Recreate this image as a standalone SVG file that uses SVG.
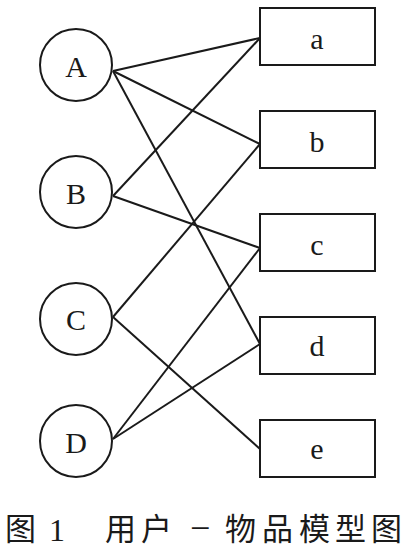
<svg xmlns="http://www.w3.org/2000/svg" width="401" height="552" viewBox="0 0 401 552">
<style>
.c{fill:#fff;stroke:#1a1a1a;stroke-width:2}
.r{fill:#fff;stroke:#1a1a1a;stroke-width:2}
.t{font-family:"Liberation Serif",serif;font-size:30px;fill:#1a1a1a;text-anchor:middle}
.e{stroke:#1a1a1a;stroke-width:2;fill:none}
.cap{font-family:"Noto Sans CJK SC","Noto Sans CJK JP",sans-serif;font-size:31px;font-weight:400;fill:#1a1a1a}
</style>
<rect width="401" height="552" fill="#fff"/>
<g id="connectors">
<line class="e" x1="113" y1="71" x2="260" y2="38"/>
<line class="e" x1="113" y1="71" x2="260" y2="144"/>
<line class="e" x1="113" y1="71" x2="260" y2="344"/>
<line class="e" x1="113" y1="196" x2="260" y2="38"/>
<line class="e" x1="113" y1="196" x2="260" y2="248"/>
<line class="e" x1="113" y1="317" x2="260" y2="144"/>
<line class="e" x1="113" y1="317" x2="260" y2="449"/>
<line class="e" x1="113" y1="439" x2="260" y2="248"/>
<line class="e" x1="113" y1="439" x2="260" y2="344"/>
</g>
<g id="A"><circle class="c" cx="76" cy="65" r="36"/><text class="t" x="76" y="77">A</text></g>
<g id="B"><circle class="c" cx="76" cy="192" r="36"/><text class="t" x="76" y="204">B</text></g>
<g id="C"><circle class="c" cx="76" cy="319" r="36"/><text class="t" x="76" y="330">C</text></g>
<g id="D"><circle class="c" cx="76" cy="441" r="36"/><text class="t" x="76" y="453">D</text></g>
<g id="a"><rect class="r" x="260" y="8" width="115" height="57"/><text class="t" x="317" y="49">a</text></g>
<g id="b"><rect class="r" x="260" y="111" width="115" height="57"/><text class="t" x="317" y="152">b</text></g>
<g id="c"><rect class="r" x="260" y="214" width="115" height="57"/><text class="t" x="317" y="255">c</text></g>
<g id="d"><rect class="r" x="260" y="317" width="115" height="57"/><text class="t" x="317" y="356">d</text></g>
<g id="e"><rect class="r" x="260" y="420" width="115" height="57"/><text class="t" x="317" y="459">e</text></g>
<g id="caption">
<text class="cap" y="540"><tspan x="5">图</tspan><tspan x="105">用</tspan><tspan x="141">户</tspan><tspan x="225">物</tspan><tspan x="262">品</tspan><tspan x="299">模</tspan><tspan x="335">型</tspan><tspan x="371">图</tspan></text>
<text font-family="Liberation Serif,serif" font-size="32" fill="#1a1a1a" y="541"><tspan x="49">1</tspan></text>
<text font-family="Liberation Serif,serif" font-size="36" fill="#1a1a1a" y="540" x="190">−</text>
</g>
</svg>
